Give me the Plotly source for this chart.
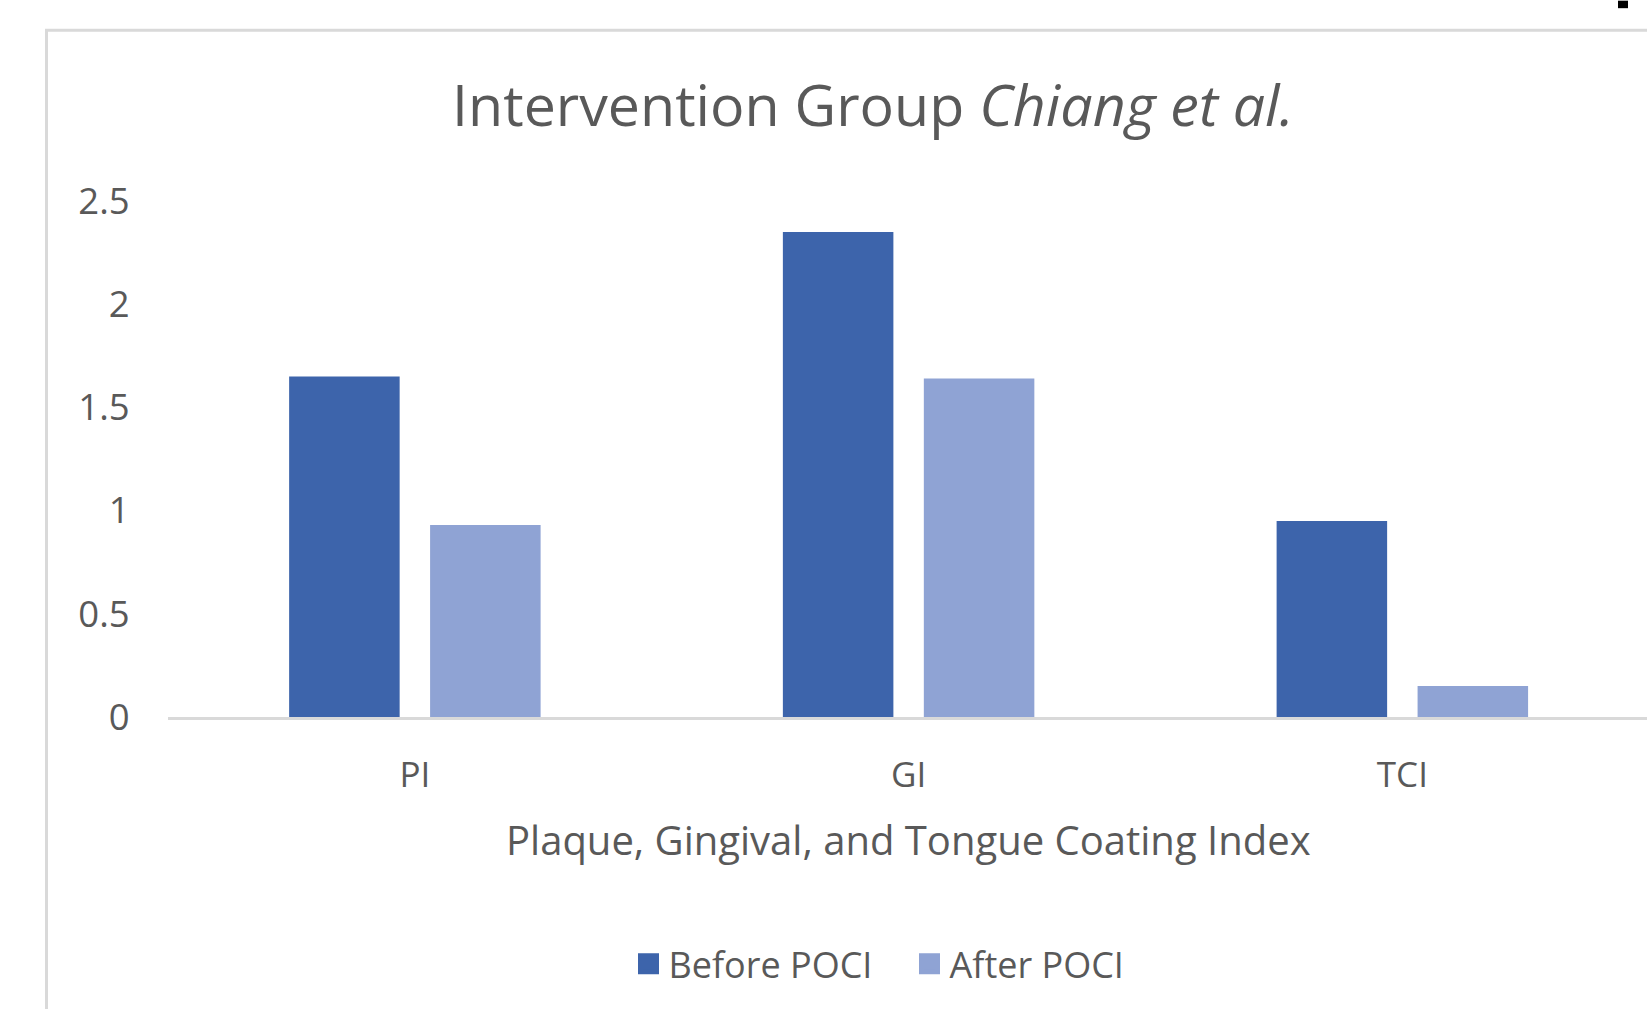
import plotly.graph_objects as go

# ---- data ----
categories = ["PI", "GI", "TCI"]
before_poci = [1.65, 2.35, 0.95]
after_poci = [0.93, 1.64, 0.15]
series_names = ["Before POCI", "After POCI"]
y_tick_vals = [0, 0.5, 1, 1.5, 2, 2.5]
y_tick_text = ["0", "0.5", "1", "1.5", "2", "2.5"]

# ---- layout constants ----
W, H = 1647, 1009
ML, MR, MT, MB = 168, 0, 200.5, 292
PW = W - ML - MR
PH = H - MT - MB
FONT = "Open Sans"
TXT = "#595959"
GRID = "#d9d9d9"
C_BEFORE = "#3D64AB"
C_AFTER = "#8FA3D4"
colors = [C_BEFORE, C_AFTER]


def px_x(px):
    return (px - ML) / PW


def px_y(py):
    return (H - MB - py) / PH


fig = go.Figure()
for name, vals, col in zip(series_names, [before_poci, after_poci], colors):
    fig.add_trace(go.Bar(x=categories, y=vals, name=name, legendgroup=name,
                         showlegend=False,
                         marker=dict(color=col, line=dict(width=0))))
# legend entries (square swatches)
for name, col in zip(series_names, colors):
    fig.add_trace(go.Scatter(x=[None], y=[None], mode="markers", name=name,
                             legendgroup=name, showlegend=True,
                             marker=dict(symbol="square", size=16, color=col,
                                         line=dict(width=5, color=col))))

fig.update_layout(
    width=W, height=H,
    margin=dict(l=ML, r=MR, t=MT, b=MB, autoexpand=False),
    paper_bgcolor="white", plot_bgcolor="white",
    font=dict(family=FONT, color=TXT, size=35),
    barmode="group", bargap=0.429, bargroupgap=0.216,
    title=dict(text="Intervention Group <i>Chiang et al.</i>",
               font=dict(family=FONT, size=57.3, color=TXT),
               x=873 / W, xanchor="center", xref="container",
               y=1 - 106 / H, yanchor="middle", yref="container"),
    xaxis=dict(type="category", range=[-0.5, 2.4955],
               showline=True, linecolor=GRID, linewidth=3,
               showgrid=False, zeroline=False,
               ticks="outside", ticklen=25, tickcolor="rgba(0,0,0,0)",
               tickfont=dict(size=35, color=TXT)),
    yaxis=dict(range=[0, 2.5], tickvals=y_tick_vals, ticktext=y_tick_text,
               showline=False, showgrid=False, zeroline=False,
               ticks="outside", ticklen=30, tickcolor="rgba(0,0,0,0)",
               tickfont=dict(size=36.5, color=TXT)),
    legend=dict(orientation="h", x=px_x(628.5), xanchor="left",
                y=px_y(964), yanchor="middle", entrywidth=236,
                font=dict(size=36, color=TXT), bgcolor="rgba(0,0,0,0)",
                traceorder="normal"),
    annotations=[dict(text="Plaque, Gingival, and Tongue Coating Index",
                      xref="paper", yref="paper", x=px_x(908), y=px_y(840),
                      xanchor="center", yanchor="middle", showarrow=False,
                      font=dict(size=40, color=TXT, family=FONT))],
    shapes=[
        dict(type="line", xref="paper", yref="paper",
             x0=px_x(46.5), x1=px_x(46.5), y0=px_y(29.5), y1=px_y(H + 20),
             line=dict(color=GRID, width=3)),
        dict(type="line", xref="paper", yref="paper",
             x0=px_x(45), x1=px_x(W + 20), y0=px_y(29.5), y1=px_y(29.5),
             line=dict(color=GRID, width=3)),
        dict(type="rect", xref="paper", yref="paper",
             x0=px_x(1618), x1=px_x(1628), y0=px_y(0), y1=px_y(7.5),
             fillcolor="black", line=dict(width=0)),
    ],
)

fig.write_html("out.html", config={"displayModeBar": False},
               post_script="document.body.style.margin='0';")
